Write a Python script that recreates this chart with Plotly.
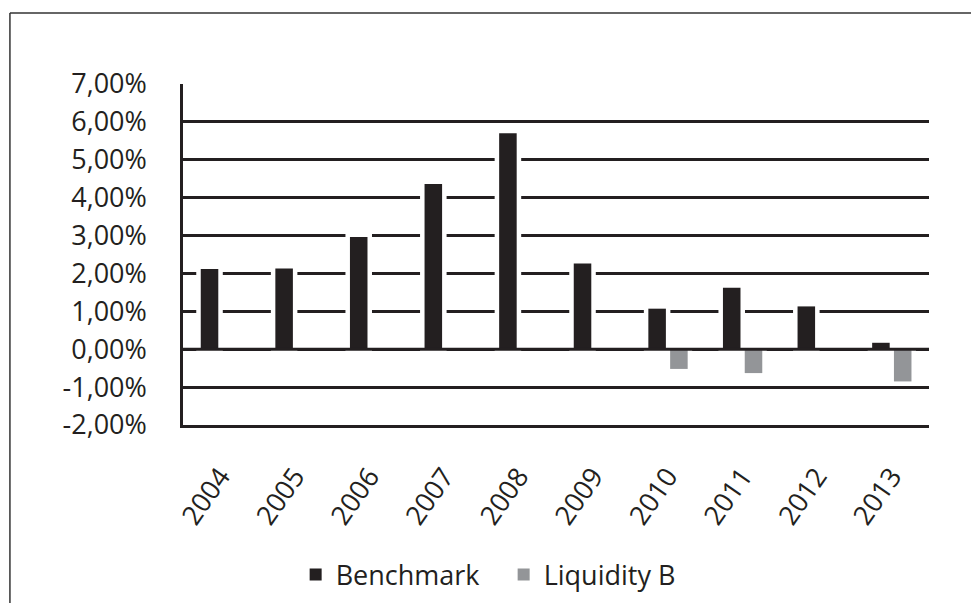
import plotly.graph_objects as go

years = ["2004", "2005", "2006", "2007", "2008", "2009", "2010", "2011", "2012", "2013"]
benchmark = [2.12, 2.13, 2.96, 4.36, 5.70, 2.26, 1.07, 1.62, 1.13, 0.17]
liquidity_b = [None, None, None, None, None, None, -0.52, -0.63, None, -0.85]
tick_vals = [7, 6, 5, 4, 3, 2, 1, 0, -1, -2]
tick_text = ["7,00%", "6,00%", "5,00%", "4,00%", "3,00%", "2,00%", "1,00%", "0,00%", "-1,00%", "-2,00%"]

INK = "#231f20"
GREY = "#939598"
FONT = "Open Sans"
BW = 0.235
OFF_B = -0.262
OFF_L = 0.03

fig = go.Figure()
# white halos (break gridlines around bars, as in the original)
for vals, off in ((benchmark, OFF_B), (liquidity_b, OFF_L)):
    fig.add_trace(go.Bar(x=years, y=vals, width=BW, offset=off,
                         marker=dict(color="white", line=dict(color="white", width=9)),
                         showlegend=False, hoverinfo="skip"))
fig.add_trace(go.Bar(x=years, y=benchmark, name="Benchmark", width=BW, offset=OFF_B,
                     marker=dict(color=INK, line=dict(width=0))))
fig.add_trace(go.Bar(x=years, y=liquidity_b, name="Liquidity B", width=BW, offset=OFF_L,
                     marker=dict(color=GREY, line=dict(width=0))))

fig.update_layout(
    width=963, height=595,
    margin=dict(l=175, r=42, t=76, b=178, autoexpand=False),
    paper_bgcolor="white", plot_bgcolor="white",
    barmode="overlay",
    font=dict(family=FONT, size=27, color=INK),
    showlegend=True,
    legend=dict(orientation="h", x=0.151, xanchor="left", y=-0.44, yanchor="middle",
                font=dict(size=27, color=INK), entrywidth=163),
    xaxis=dict(type="category", showgrid=False, showline=True, linecolor=INK, linewidth=2.5,
               tickangle=-55, tickfont=dict(size=27, color=INK), ticks="",
               ticklabelstandoff=22, range=[-0.5, 9.5], automargin=False),
    yaxis=dict(range=[-2, 7], tickvals=tick_vals, ticktext=tick_text,
               showgrid=True, gridcolor=INK, gridwidth=2.5, zeroline=False,
               showline=True, linecolor=INK, linewidth=2.5, automargin=False,
               tickfont=dict(size=27, color=INK), ticks="", ticklabelstandoff=28),
    shapes=[
        dict(type="line", xref="paper", x0=0, x1=1, yref="y", y0=0, y1=0,
             line=dict(color=INK, width=3), layer="above"),
        # chart-area frame: only its left and top edges fall inside the picture
        dict(type="line", xref="paper", yref="paper", x0=-0.232, x1=-0.232, y0=-0.6, y1=1.208,
             line=dict(color="#333333", width=1.5), layer="below"),
        dict(type="line", xref="paper", yref="paper", x0=-0.232, x1=1.1, y0=1.208, y1=1.208,
             line=dict(color="#333333", width=1.5), layer="below"),
    ],
)

fig.write_html("out.html")
